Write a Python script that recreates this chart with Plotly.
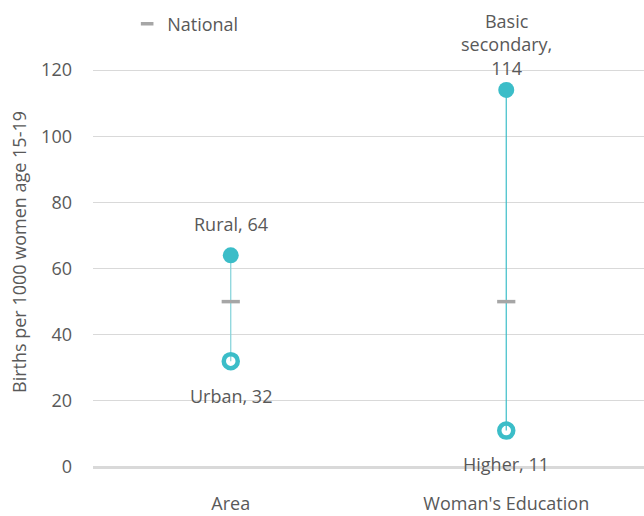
import plotly.graph_objects as go

# Adolescent birth rate by group
categories = ["Area", "Woman's Education"]
high_labels = ["Rural", "Basic<br>secondary,<br>"]
high_values = [64, 114]
low_labels = ["Urban", "Higher"]
low_values = [32, 11]
national = [50, 50]

teal = "#3bbdc8"
link_colors = ["#80d2d9", teal]
grey_text = "#595959"
font_family = "'Open Sans', sans-serif"
fs = 18

# Vertical pixel offsets for the value labels
high_shift = [9, 0]
low_shift = [-22, -20]

fig = go.Figure()

# Connecting lines between low and high value of each category
for cat, lo, hi, col in zip(categories, low_values, high_values, link_colors):
    fig.add_trace(go.Scatter(
        x=[cat, cat], y=[lo, hi], mode="lines",
        line=dict(color=col, width=1.2),
        showlegend=False, hoverinfo="skip",
    ))

# National reference mark
fig.add_trace(go.Scatter(
    x=categories, y=national, mode="markers", name="National",
    marker=dict(symbol="line-ew", size=13, line=dict(color="#a6a6a6", width=3.5)),
    showlegend=False,
))
# Legend entry for the national mark
fig.add_trace(go.Scatter(
    x=[None], y=[None], mode="markers", name="National",
    marker=dict(symbol="line-ew", size=9, line=dict(color="#a6a6a6", width=3.5)),
    showlegend=True,
))

# Higher value: filled circle
fig.add_trace(go.Scatter(
    x=categories, y=high_values, mode="markers",
    marker=dict(symbol="circle", size=16, color=teal),
    showlegend=False,
))

# Lower value: ring
fig.add_trace(go.Scatter(
    x=categories, y=low_values, mode="markers",
    marker=dict(symbol="circle-open", size=14, color=teal, line=dict(width=4.5, color=teal)),
    showlegend=False,
))

annotations = []
for cat, lab, val, sh in zip(categories, high_labels, high_values, high_shift):
    sep = "" if lab.endswith("<br>") else ", "
    annotations.append(dict(
        x=cat, y=val, text=f"{lab}{sep}{val}", showarrow=False,
        yanchor="bottom", yshift=sh + 8,
        font=dict(size=fs, color=grey_text, family=font_family),
    ))
for cat, lab, val, sh in zip(categories, low_labels, low_values, low_shift):
    annotations.append(dict(
        x=cat, y=val, text=f"{lab}, {val}", showarrow=False,
        yanchor="middle", yshift=sh - 13,
        font=dict(size=fs, color=grey_text, family=font_family),
    ))

fig.update_layout(
    width=644, height=516,
    margin=dict(l=93, r=0, t=37, b=49),
    paper_bgcolor="white", plot_bgcolor="white",
    font=dict(family=font_family, size=fs, color=grey_text),
    annotations=annotations,
    legend=dict(orientation="h", x=0.062, y=1.03, xanchor="left", yanchor="middle",
                font=dict(size=fs, color=grey_text), bgcolor="rgba(0,0,0,0)",
                itemwidth=30),
    xaxis=dict(
        range=[-0.5, 1.5], automargin=False,
        showgrid=False, showline=False, zeroline=False, ticks="",
        tickfont=dict(size=fs, color=grey_text), ticklabelstandoff=24,
    ),
    yaxis=dict(
        range=[0, 130], tickvals=[0, 20, 40, 60, 80, 100, 120], automargin=False,
        showgrid=True, gridcolor="#d9d9d9", gridwidth=1,
        zeroline=True, zerolinecolor="#d9d9d9", zerolinewidth=2.5,
        showline=False, ticks="",
        tickfont=dict(size=fs, color=grey_text), ticklabelstandoff=20,
        title=dict(text="Births per 1000 women age 15-19", font=dict(size=fs, color=grey_text), standoff=9),
    ),
)

fig.write_html("out.html")
